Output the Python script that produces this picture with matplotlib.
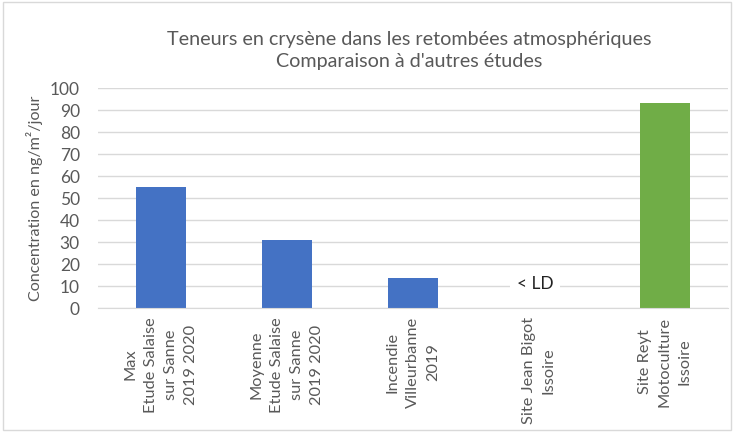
import matplotlib.pyplot as plt
from matplotlib.patches import Rectangle

plt.rcParams['font.family'] = ['Lato', 'DejaVu Sans']

# Data
categories = ['Max\nEtude Salaise\nsur Sanne\n2019 2020',
              'Moyenne\nEtude Salaise\nsur Sanne\n2019 2020',
              'Incendie\nVilleurbanne\n2019',
              'Site Jean Bigot\nIssoire',
              'Site Reyt\nMotoculture\nIssoire']
values = [55.2, 31.2, 13.8, 0, 93.3]
colors = ['#4472c4', '#4472c4', '#4472c4', '#4472c4', '#70ad47']
ld_label = '< LD'
ld_index = 3
ld_y = 11

grey = '#595959'

fig = plt.figure(figsize=(7.34, 4.32), dpi=100)
ax = fig.add_axes([0.1335, 0.286, 0.858, 0.51])

x = range(len(categories))
ax.bar(x, values, width=0.4, color=colors, zorder=2)

ax.set_xlim(-0.5, len(categories) - 0.5)
ax.set_ylim(0, 100)
ax.set_yticks(range(0, 101, 10))
ax.yaxis.grid(True, color='#d9d9d9', linewidth=1, zorder=0)
ax.set_axisbelow(True)
for s in ['top', 'right', 'left']:
    ax.spines[s].set_visible(False)
ax.spines['bottom'].set_color('#d9d9d9')
ax.tick_params(axis='y', length=0, labelsize=12.5, labelcolor=grey, pad=13)
ax.tick_params(axis='x', length=0, labelsize=11.8, labelcolor=grey, pad=6)
ax.set_xticks(list(x))
ax.set_xticklabels(categories, rotation=90, ha='center', va='top',
                   multialignment='center', linespacing=1.55)

ax.set_ylabel('Concentration en ng/m²/jour', fontsize=11.6, color=grey, labelpad=5)

ax.text(ld_index - 0.03, ld_y, ld_label, ha='center', va='center', fontsize=12.5,
        color='#222222', zorder=3,
        bbox=dict(facecolor='white', edgecolor='none', pad=5))

fig.text(0.558, 0.884, 'Teneurs en crysène dans les retombées atmosphériques\nComparaison à d\'autres études',
         ha='center', va='center', fontsize=14.2, color=grey, linespacing=1.35)

fig.patches.append(Rectangle((0.004, 0.004), 0.992, 0.992, transform=fig.transFigure,
                             fill=False, edgecolor='#d9d9d9', linewidth=1))

fig.savefig('out.png', dpi=100)
